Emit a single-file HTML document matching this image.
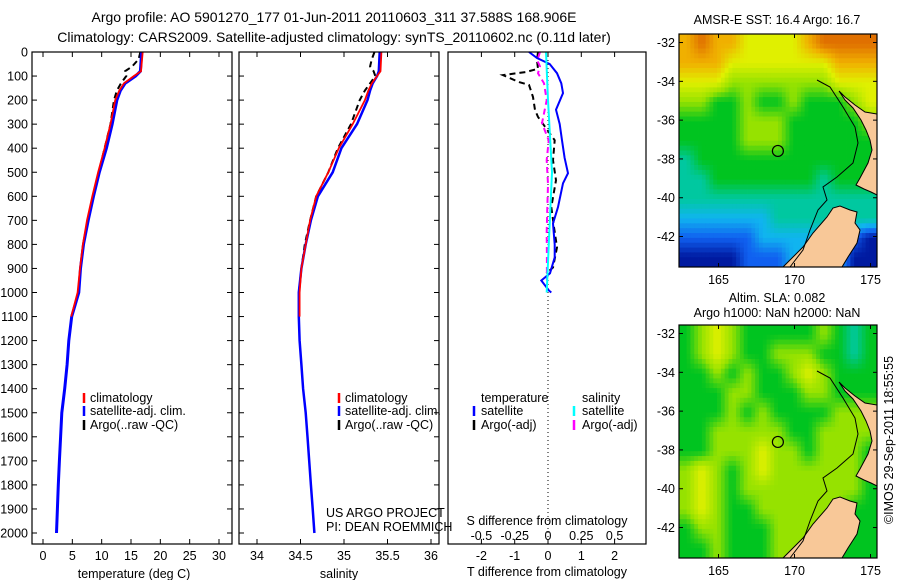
<!DOCTYPE html>
<html><head><meta charset="utf-8">
<style>
html,body{margin:0;padding:0;background:#fff;}
svg{display:block;font-family:"Liberation Sans",sans-serif;}
text{font-size:12.5px;fill:#000;}
</style></head>
<body>
<svg id="fig" width="900" height="580" viewBox="0 0 900 580" xmlns="http://www.w3.org/2000/svg">
<rect width="900" height="580" fill="#fff"/>
<text x="334" y="22" text-anchor="middle" style="font-size:14px">Argo profile: AO 5901270_177 01-Jun-2011 20110603_311 37.588S 168.906E</text>
<text x="334" y="42" text-anchor="middle" style="font-size:14px">Climatology: CARS2009. Satellite-adjusted climatology: synTS_20110602.nc (0.11d later)</text>
<text x="777" y="24" text-anchor="middle">AMSR-E SST: 16.4  Argo: 16.7</text>
<text x="777" y="302" text-anchor="middle">Altim. SLA: 0.082</text>
<text x="777" y="317" text-anchor="middle">Argo h1000: NaN h2000: NaN</text>
<text transform="translate(893,440) rotate(-90)" text-anchor="middle">©IMOS 29-Sep-2011 18:55:55</text>
<g id="layer"></g>
</svg>
<script>
// ---------- data ----------
const depthTicks=[0,100,200,300,400,500,600,700,800,900,1000,1100,1200,1300,1400,1500,1600,1700,1800,1900,2000];
const tempTicks=[0,5,10,15,20,25,30];
const salTicks=[34,34.5,35,35.5,36];
const salTickLabels=["34","34.5","35","35.5","36"];
const tdTicks=[-2,-1,0,1,2];
const sdTicks=[-0.5,-0.25,0,0.25,0.5];
const sdTickLabels=["-0.5","-0.25","0","0.25","0.5"];

const satDepth=[0,80,100,130,160,200,300,400,500,600,700,800,900,1000,1100,1200,1300,1400,1500,1600,1700,1800,1900,2000];
const satTemp=[16.8,16.6,15.8,14.0,13.2,12.6,11.8,10.8,9.6,8.6,7.7,6.9,6.4,6.1,4.9,4.4,4.1,3.7,3.2,3.0,2.8,2.6,2.45,2.3];
const climDepth=[0,80,100,130,160,200,300,400,500,600,700,800,900,1000,1100];
const climTemp=[17.0,16.7,15.5,13.8,13.0,12.3,11.5,10.5,9.4,8.4,7.5,6.8,6.3,5.9,4.8];
const argoDepth=[0,30,60,80,100,130,160,200,300,400,500,600,700,800,900,1000];
const argoTemp=[16.6,16.3,15.2,14.0,14.2,13.3,12.6,12.1,11.5,10.5,9.5,8.6,7.6,6.9,6.4,6.0];

const satSal=[35.41,35.40,35.38,35.33,35.30,35.27,35.15,34.97,34.87,34.70,34.62,34.56,34.51,34.48,34.48,34.49,34.51,34.53,34.56,34.58,34.60,34.62,34.64,34.66];
const climSal=[35.43,35.42,35.38,35.32,35.28,35.24,35.10,34.94,34.82,34.68,34.61,34.56,34.51,34.49,34.49];
const argoSal=[35.35,35.32,35.30,35.34,35.36,35.30,35.24,35.18,35.08,34.93,34.82,34.68,34.61,34.55,34.51,34.48];

const dDepth=[0,25,50,88,130,171,240,300,367,440,504,546,645,713,800,854,920,950,992,1000];
const tDiffSat=[-0.57,-0.33,0.05,0.27,0.4,0.45,0.24,0.35,0.42,0.5,0.6,0.45,0.3,0.15,0.2,0.2,0.06,-0.2,0.03,0.1];
const tDiffArgoDepth=[0,35,70,83,96,125,137,187,241,270,367,450,533,645,729,812,896,921];
const tDiffArgo=[-0.3,-0.33,-0.3,-0.66,-1.35,-0.87,-0.57,-0.45,-0.39,-0.3,0.2,0.15,0.24,0.1,0.18,0.27,0.15,-0.05];
const sDiffArgoDepth=[0,35,60,88,130,200,296,367,450,550,650,750,850,950];
const sDiffArgo=[-0.06,-0.08,-0.06,-0.075,-0.03,-0.01,-0.045,0.005,-0.01,0.0,-0.005,-0.01,-0.008,-0.008];
const sDiffSatDepth=[0,200,500,750,1000];
const sDiffSat=[-0.015,0.0,0.03,0.01,-0.01];

const lonTicks=[165,170,175];
const latTicks=[-32,-34,-36,-38,-40,-42];
const argoLon=168.906, argoLat=-37.588;
const sstGrid=["8988777789999","8887777777888","7776666666777","6655655655567","5555666555556","5555666555555","4555555555555","4455555554555","4444444444444","3333334444444","2222233333321","1111222333311"];
const slaGrid=["5676555556545","5676556665545","5565655676555","5556655566555","5556565555666","5566666556666","5566676656665","6765676666665","6765666666665","6765566666655","5665556666655","5565556665555"];

// ---------- helpers ----------
const NS="http://www.w3.org/2000/svg";
const layer=document.getElementById('layer');
function mk(tag,attrs,parent){const e=document.createElementNS(NS,tag);for(const k in attrs)e.setAttribute(k,attrs[k]);(parent||layer).appendChild(e);return e;}
const top0=52,bot0=544;
const yD=d=>top0+d*0.2405;
function panel(name){const g=mk('g',{});return g;}
function box(g,x0,x1,y0,y1){const r=mk('rect',{x:x0,y:y0,width:x1-x0,height:y1-y0,fill:'none',stroke:'#000','stroke-width':1.2},g);}
function line(g,xs,ys,st,name){let p='';for(let i=0;i<xs.length;i++)p+=(i?'L':'M')+xs[i].toFixed(1)+' '+ys[i].toFixed(1);const e=mk('path',Object.assign({d:p,fill:'none'},st),g);return e;}
function txt(g,x,y,s,anchor,name){const t=mk('text',{x:x,y:y,'text-anchor':anchor||'start'},g);t.textContent=s;return t;}
function depthAxis(g,x0,x1,labels){depthTicks.forEach(d=>{const y=yD(d);mk('line',{x1:x0,x2:x0+5,y1:y,y2:y,stroke:'#000'},g);mk('line',{x1:x1-5,x2:x1,y1:y,y2:y,stroke:'#000'},g);if(labels)txt(g,x0-4,y+4.5,String(d),'end','depth-tick-label');});}
function xAxis(g,xs,labels,y0,y1,ly,name){xs.forEach((x,i)=>{mk('line',{x1:x,x2:x,y1:y1,y2:y1-5,stroke:'#000'},g);mk('line',{x1:x,x2:x,y1:y0,y2:y0+5,stroke:'#000'},g);txt(g,x,ly,labels[i],'middle',name);});}
function legendMark(g,x,y,color){const l=mk('line',{x1:x,x2:x,y1:y-10,y2:y,stroke:color,'stroke-width':2.5},g);}

// ---------- panel 1 ----------
const xT=t=>43+t*5.867;
let g=panel('temperature-panel');
line(g,argoTemp.map(xT),argoDepth.map(yD),{stroke:'#000','stroke-width':2,'stroke-dasharray':'6 4'},'argo-temp-line');
line(g,satTemp.map(xT),satDepth.map(yD),{stroke:'#0000ff','stroke-width':3},'satellite-temp-line');
line(g,climTemp.map(xT),climDepth.map(yD),{stroke:'#ff0000','stroke-width':1.8},'climatology-temp-line');
box(g,32,232,top0,bot0);depthAxis(g,32,232,true);
xAxis(g,tempTicks.map(xT),tempTicks.map(String),top0,bot0,560,'temp-tick-label');
txt(g,134,578,'temperature (deg C)','middle','temperature-axis-title');
legendMark(g,84,403,'#ff0000');txt(g,90,402,'climatology','start','legend-climatology');
legendMark(g,84,416,'#0000ff');txt(g,90,415,'satellite-adj. clim.','start','legend-satellite');
legendMark(g,84,430,'#000');txt(g,90,429,'Argo(..raw -QC)','start','legend-argo');

// ---------- panel 2 ----------
const xS=s=>257+(s-34)*87;
g=panel('salinity-panel');
line(g,argoSal.map(xS),argoDepth.map(yD),{stroke:'#000','stroke-width':2,'stroke-dasharray':'6 4'},'argo-sal-line');
line(g,satSal.map(xS),satDepth.map(yD),{stroke:'#0000ff','stroke-width':2.5},'satellite-sal-line');
line(g,climSal.map(xS),climDepth.map(yD),{stroke:'#ff0000','stroke-width':1.8},'climatology-sal-line');
box(g,239,439,top0,bot0);depthAxis(g,239,439,false);
xAxis(g,salTicks.map(xS),salTickLabels,top0,bot0,560,'sal-tick-label');
txt(g,339,578,'salinity','middle','salinity-axis-title');
legendMark(g,339,403,'#ff0000');txt(g,345,402,'climatology','start','legend-climatology');
legendMark(g,339,416,'#0000ff');txt(g,345,415,'satellite-adj. clim.','start','legend-satellite');
legendMark(g,339,430,'#000');txt(g,345,429,'Argo(..raw -QC)','start','legend-argo');
txt(g,326,517,'US ARGO PROJECT','start','project-label');
txt(g,326,531,'PI: DEAN ROEMMICH','start','pi-label');

// ---------- panel 3 ----------
const xTd=t=>548+t*33.3;
const xSd=s=>548+s*133.2;
g=panel('difference-panel');
line(g,[xTd(0),xTd(0)],[top0,bot0],{stroke:'#000','stroke-width':1,'stroke-dasharray':'1 3'},'zero-line');
line(g,tDiffArgo.map(xTd),tDiffArgoDepth.map(yD),{stroke:'#000','stroke-width':2,'stroke-dasharray':'6 4'},'argo-tdiff-line');
line(g,sDiffArgo.map(xSd),sDiffArgoDepth.map(yD),{stroke:'#ff00ff','stroke-width':2,'stroke-dasharray':'6 4'},'argo-sdiff-line');
line(g,tDiffSat.map(xTd),dDepth.map(yD),{stroke:'#0000ff','stroke-width':2},'satellite-tdiff-line');
line(g,sDiffSat.map(xSd),sDiffSatDepth.map(yD),{stroke:'#00ffff','stroke-width':2},'satellite-sdiff-line');
box(g,448,646,top0,bot0);
tdTicks.forEach(t=>{const x=xTd(t);mk('line',{x1:x,x2:x,y1:bot0,y2:bot0-5,stroke:'#000'},g);mk('line',{x1:x,x2:x,y1:top0,y2:top0+5,stroke:'#000'},g);txt(g,x,560,String(t),'middle','tdiff-tick-label');});
sdTicks.forEach((s,i)=>{txt(g,xSd(s),540,sdTickLabels[i],'middle','sdiff-tick-label');});
txt(g,547,525,'S difference from climatology','middle','sdiff-axis-title');
txt(g,547,576,'T difference from climatology','middle','tdiff-axis-title');
txt(g,481,402,'temperature','start','legend-temperature-header');
txt(g,582,402,'salinity','start','legend-salinity-header');
legendMark(g,474,416,'#0000ff');txt(g,481,415,'satellite','start','legend-temp-satellite');
legendMark(g,474,430,'#000');txt(g,481,429,'Argo(-adj)','start','legend-temp-argo');
legendMark(g,574,416,'#00ffff');txt(g,582,415,'satellite','start','legend-sal-satellite');
legendMark(g,574,430,'#ff00ff');txt(g,582,429,'Argo(-adj)','start','legend-sal-argo');

// ---------- maps ----------
const cmap=[[0,12,128],[0,26,160],[16,96,240],[16,180,240],[0,200,160],[0,196,32],[150,226,0],[224,240,0],[240,176,0],[224,112,0]];
function colorAt(v){v=Math.max(0,Math.min(9,v));const i=Math.min(8,Math.floor(v)),f=v-i;const a=cmap[i],b=cmap[i+1];return 'rgb('+a.map((c,k)=>Math.round(c+(b[k]-c)*f)).join(',')+')';}
const land=[[160,57],[166,63],[176,71],[186,78],[198,80],[198,161],[192,158],[185,155],[177,151],[181,144],[189,129],[193,116],[191,106],[187,96],[182,86],[174,74],[166,66]];
const land2=[[104,233],[124,213],[134,199],[148,183],[154,174],[161,172],[171,176],[178,178],[176,189],[181,196],[178,209],[169,223],[163,233]];
const iso=[[138,46],[151,53],[164,73],[176,93],[179,109],[174,129],[158,143],[144,153],[148,166],[139,176],[131,196],[124,216],[111,233]];
function drawMap(ox,oy,grid,name){
  const W=198,H=233;
  const lonX=lo=>ox+(lo-162.4)*15.2, latY=la=>oy+(-31.56-la)*19.4;
  const mg=mk('g',{});
  const nr=grid.length,nc=grid[0].length,S=4;
  const val=(r,c)=>+grid[Math.max(0,Math.min(nr-1,r))][Math.max(0,Math.min(nc-1,c))];
  const cw=W/(nc*S), ch=H/(nr*S);
  for(let r=0;r<nr*S;r++)for(let c=0;c<nc*S;c++){
    const fr=(r+0.5)/S-0.5, fc=(c+0.5)/S-0.5;
    const r0=Math.floor(fr),c0=Math.floor(fc),dr=fr-r0,dc=fc-c0;
    const v=val(r0,c0)*(1-dr)*(1-dc)+val(r0,c0+1)*(1-dr)*dc+val(r0+1,c0)*dr*(1-dc)+val(r0+1,c0+1)*dr*dc;
    const cell=mk('rect',{x:(ox+c*cw).toFixed(2),y:(oy+r*ch).toFixed(2),width:(cw+0.4).toFixed(2),height:(ch+0.4).toFixed(2),fill:colorAt(v)},mg);
    
    
  }
  const pl=p=>p.map(q=>(ox+q[0])+','+(oy+q[1])).join(' ');
  const l1=mk('polygon',{points:pl(land),fill:'#f8c898',stroke:'#000','stroke-width':1},mg);
  const l2=mk('polygon',{points:pl(land2),fill:'#f8c898',stroke:'#000','stroke-width':1},mg);
  const is=mk('polyline',{points:pl(iso),fill:'none',stroke:'#000','stroke-width':1},mg);
  const c=mk('circle',{cx:lonX(argoLon),cy:latY(argoLat),r:5.5,fill:'none',stroke:'#000','stroke-width':1.2},mg);
  const fr=mk('rect',{x:ox,y:oy,width:W,height:H,fill:'none',stroke:'#000','stroke-width':1.2},mg);
  lonTicks.forEach(lo=>{const x=lonX(lo);mk('line',{x1:x,x2:x,y1:oy,y2:oy+4,stroke:'#000'},mg);mk('line',{x1:x,x2:x,y1:oy+H,y2:oy+H-4,stroke:'#000'},mg);txt(mg,x,oy+H+17,String(lo),'middle','lon-tick-label');});
  latTicks.forEach(la=>{const y=latY(la);mk('line',{x1:ox,x2:ox+4,y1:y,y2:y,stroke:'#000'},mg);mk('line',{x1:ox+W,x2:ox+W-4,y1:y,y2:y,stroke:'#000'},mg);txt(mg,ox-4,y+4.5,String(la),'end','lat-tick-label');});
}
drawMap(679,34,sstGrid,'sst-map');
drawMap(679,325,slaGrid,'sla-map');
</script>
</body></html>
